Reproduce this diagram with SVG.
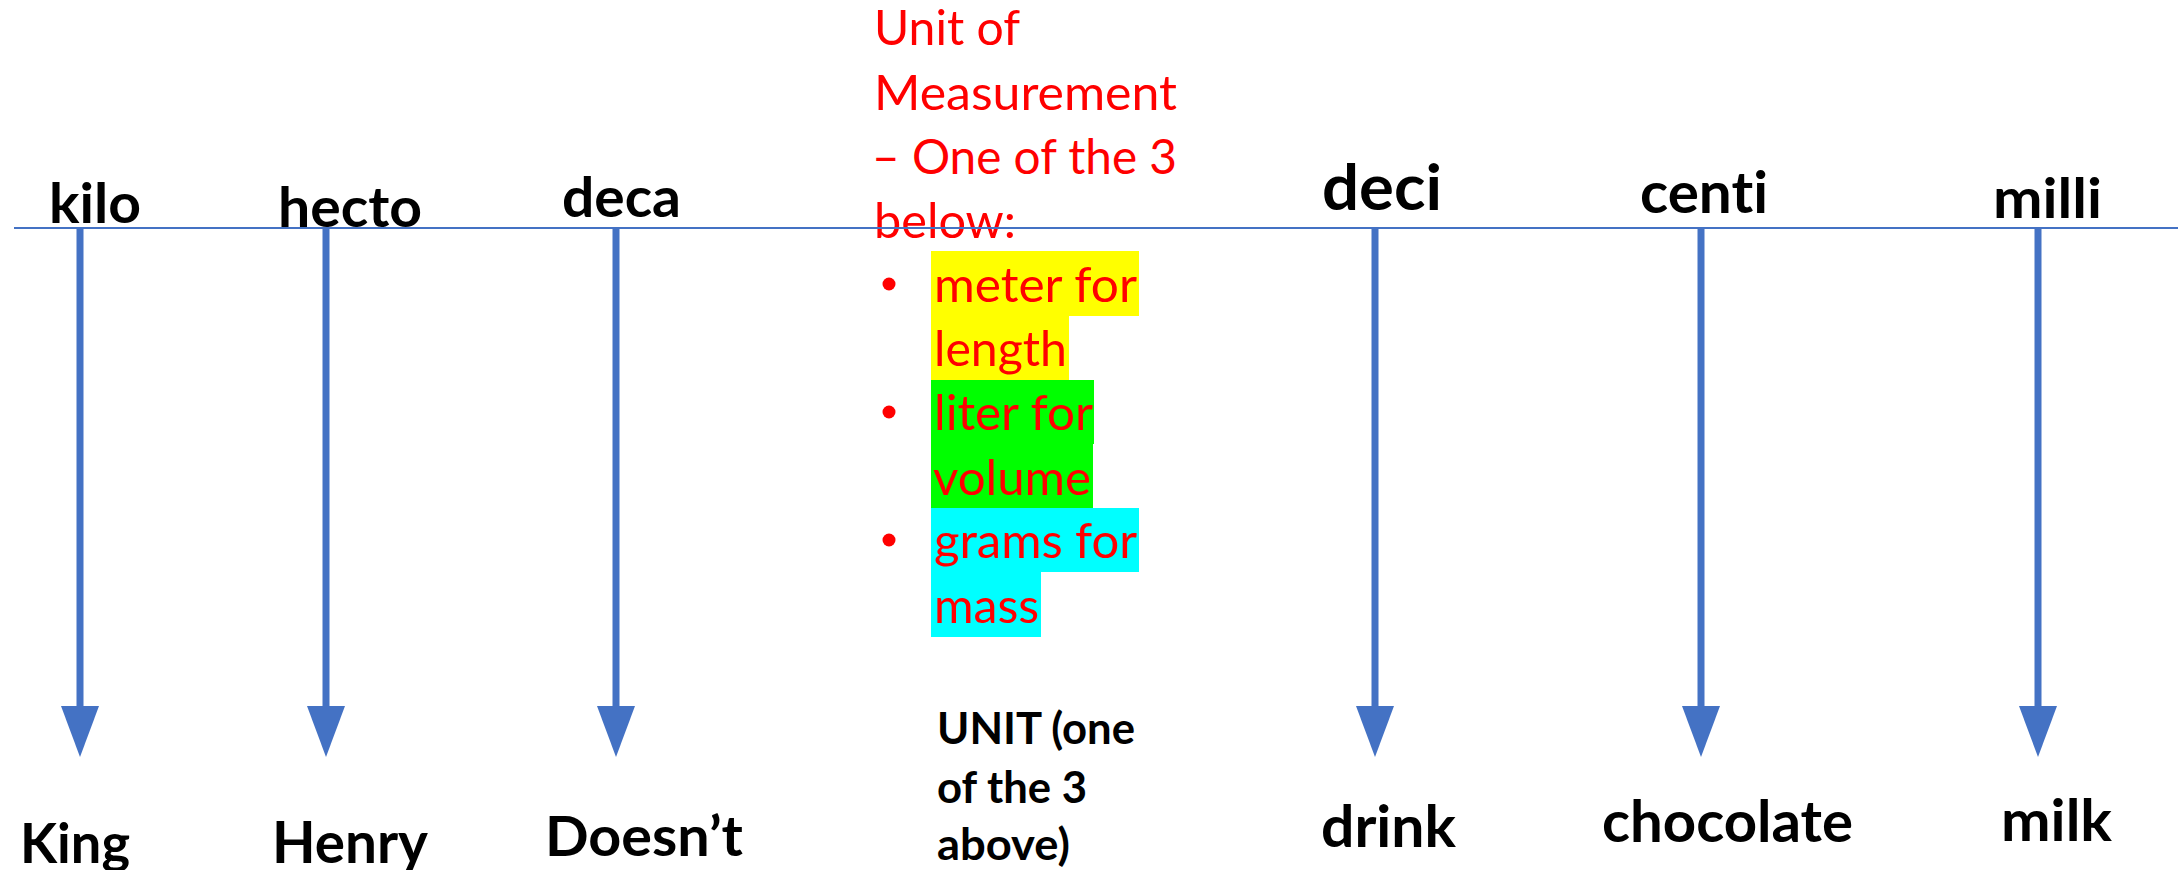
<svg xmlns="http://www.w3.org/2000/svg" width="2178" height="870" viewBox="0 0 2178 870">
<style>
text{font-variant-ligatures:none;font-feature-settings:"liga" 0,"clig" 0}
.lbl{font-family:Lato,"Liberation Sans",sans-serif;font-weight:700;fill:#000}
.red{font-family:Lato,"Liberation Sans",sans-serif;font-weight:400;fill:#FF0000;font-size:48px}
.unit{font-family:Lato,"Liberation Sans",sans-serif;font-weight:700;fill:#000;font-size:43px}
.arrow{stroke:#4472C4;stroke-width:7;fill:none;marker-end:url(#head)}
.axis{stroke:#4472C4;stroke-width:2;fill:none}
.dot{fill:#FF0000}
</style>
<defs>
<marker id="head" markerUnits="userSpaceOnUse" viewBox="0 -19 51 38" markerWidth="51" markerHeight="38" refX="0" refY="0" orient="auto">
<path d="M0,-19 L51,0 L0,19 Z" fill="#4472C4"/>
</marker>
</defs>
<rect width="2178" height="870" fill="#fff"/>

<g id="unit-measurement">
<rect x="931" y="251" width="208" height="65" fill="#FFFF00"/>
<rect x="931" y="315" width="138" height="65" fill="#FFFF00"/>
<rect x="931" y="380" width="163" height="64" fill="#00FF00"/>
<rect x="931" y="444" width="162" height="64" fill="#00FF00"/>
<rect x="931" y="508" width="208" height="64" fill="#00FFFF"/>
<rect x="931" y="572" width="110" height="65" fill="#00FFFF"/>
<text class="red" x="874" y="45" textLength="146" lengthAdjust="spacingAndGlyphs">Unit of</text>
<text class="red" x="874" y="110" textLength="303" lengthAdjust="spacingAndGlyphs">Measurement</text>
<text class="red" x="872" y="174" textLength="305" lengthAdjust="spacingAndGlyphs">– One of the 3</text>
<text class="red" x="874" y="238" textLength="142" lengthAdjust="spacingAndGlyphs">below:</text>
<circle class="dot" cx="889" cy="284" r="6.5"/>
<circle class="dot" cx="889" cy="412" r="6.5"/>
<circle class="dot" cx="889" cy="540" r="6.5"/>
<text class="red" x="934" y="302" textLength="203" lengthAdjust="spacingAndGlyphs">meter for</text>
<text class="red" x="934" y="366" textLength="133" lengthAdjust="spacingAndGlyphs">length</text>
<text class="red" x="934" y="430" textLength="159" lengthAdjust="spacingAndGlyphs">liter for</text>
<text class="red" x="933" y="495" textLength="158" lengthAdjust="spacingAndGlyphs">volume</text>
<text class="red" x="934" y="558" textLength="203" lengthAdjust="spacingAndGlyphs">grams for</text>
<text class="red" x="934" y="623" textLength="105" lengthAdjust="spacingAndGlyphs">mass</text>
</g>

<g id="kilo"><text class="lbl" x="49" y="223" font-size="55" textLength="92" lengthAdjust="spacingAndGlyphs">kilo</text></g>
<g id="hecto"><text class="lbl" x="278" y="227" font-size="56" textLength="144" lengthAdjust="spacingAndGlyphs">hecto</text></g>
<g id="deca"><text class="lbl" x="562" y="217" font-size="56" textLength="119" lengthAdjust="spacingAndGlyphs">deca</text></g>
<g id="deci"><text class="lbl" x="1322" y="210" font-size="64" textLength="120" lengthAdjust="spacingAndGlyphs">deci</text></g>
<g id="centi"><text class="lbl" x="1640" y="213" font-size="57" textLength="128" lengthAdjust="spacingAndGlyphs">centi</text></g>
<g id="milli"><text class="lbl" x="1993" y="218" font-size="56" textLength="109" lengthAdjust="spacingAndGlyphs">milli</text></g>

<g id="king"><text class="lbl" x="20" y="863" font-size="56" textLength="110" lengthAdjust="spacingAndGlyphs">King</text></g>
<g id="henry"><text class="lbl" x="272" y="863" font-size="57" textLength="156" lengthAdjust="spacingAndGlyphs">Henry</text></g>
<g id="doesnt"><text class="lbl" x="545" y="856" font-size="56" textLength="198" lengthAdjust="spacingAndGlyphs">Doesn’t</text></g>
<g id="unit">
<text class="unit" x="937" y="744" textLength="198" lengthAdjust="spacingAndGlyphs">UNIT (one</text>
<text class="unit" x="937" y="803" textLength="150" lengthAdjust="spacingAndGlyphs">of the 3</text>
<text class="unit" x="937" y="860" textLength="133" lengthAdjust="spacingAndGlyphs">above)</text>
</g>
<g id="drink"><text class="lbl" x="1321" y="847" font-size="58" textLength="135" lengthAdjust="spacingAndGlyphs">drink</text></g>
<g id="chocolate"><text class="lbl" x="1602" y="842" font-size="57" textLength="251" lengthAdjust="spacingAndGlyphs">chocolate</text></g>
<g id="milk"><text class="lbl" x="2001" y="841" font-size="57" textLength="111" lengthAdjust="spacingAndGlyphs">milk</text></g>

<g id="connectors">
<line class="axis" x1="14" y1="228" x2="2178" y2="228"/>
<line class="arrow" x1="80" y1="229" x2="80" y2="706"/>
<line class="arrow" x1="326" y1="229" x2="326" y2="706"/>
<line class="arrow" x1="616" y1="229" x2="616" y2="706"/>
<line class="arrow" x1="1375" y1="229" x2="1375" y2="706"/>
<line class="arrow" x1="1701" y1="229" x2="1701" y2="706"/>
<line class="arrow" x1="2038" y1="229" x2="2038" y2="706"/>
</g>
</svg>
